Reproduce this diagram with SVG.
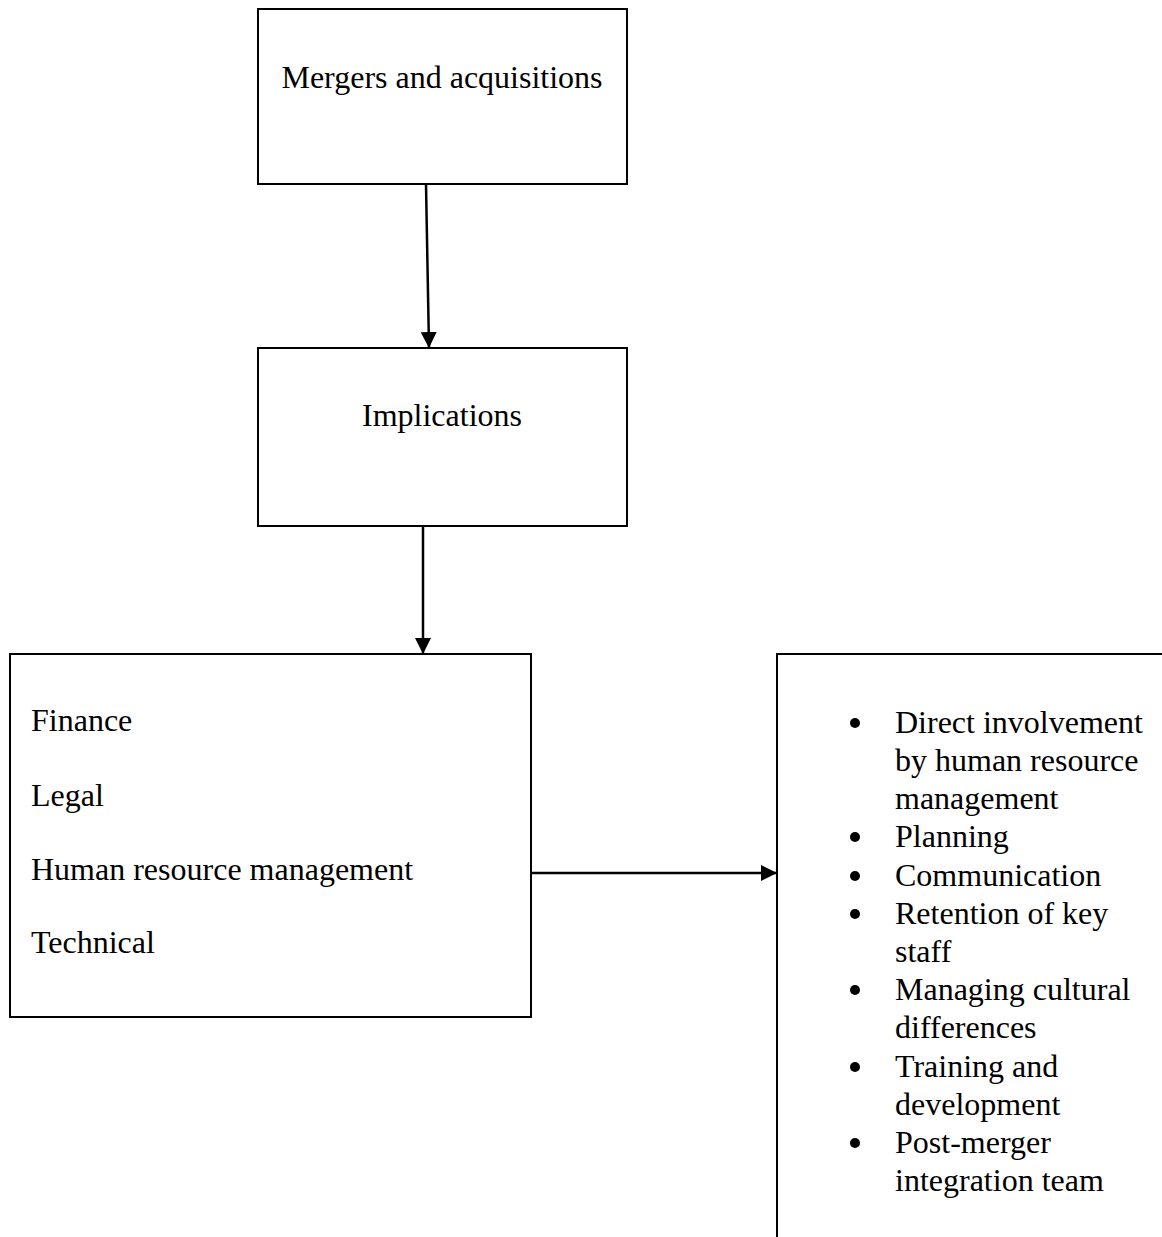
<svg xmlns="http://www.w3.org/2000/svg" width="1162" height="1237" viewBox="0 0 1162 1237">
<style>
.box{fill:#fff;stroke:#000;stroke-width:2}
.t{font-family:"Liberation Serif","Times New Roman",serif;font-size:32px;fill:#000}
.c{text-anchor:middle}
.edge{stroke:#000;stroke-width:2.5;fill:none}
</style>
<defs>
<marker id="ah" markerWidth="17" markerHeight="17" refX="16" refY="8" orient="auto" markerUnits="userSpaceOnUse">
<path d="M0,0 L16,8 L0,16 Z" fill="#000"/>
</marker>
</defs>
<rect width="1162" height="1237" fill="#fff"/>
<g id="n1">
<rect class="box" x="258" y="9" width="369" height="175"/>
<text class="t c" x="442" y="88">Mergers and acquisitions</text>
</g>
<g id="n2">
<rect class="box" x="258" y="348" width="369" height="178"/>
<text class="t c" x="442" y="426">Implications</text>
</g>
<g id="n3">
<rect class="box" x="10" y="654" width="521" height="363"/>
<text class="t" x="31" y="731">Finance</text>
<text class="t" x="31" y="806">Legal</text>
<text class="t" x="31" y="880">Human resource management</text>
<text class="t" x="31" y="953">Technical</text>
</g>
<g id="n4">
<rect class="box" x="777" y="654" width="500" height="700"/>
<g fill="#000">
<circle cx="855" cy="723" r="5"/>
<circle cx="855" cy="837" r="5"/>
<circle cx="855" cy="876" r="5"/>
<circle cx="855" cy="914" r="5"/>
<circle cx="855" cy="990" r="5"/>
<circle cx="855" cy="1067" r="5"/>
<circle cx="855" cy="1143" r="5"/>
</g>
<text class="t" x="895" y="733">Direct involvement</text>
<text class="t" x="895" y="771">by human resource</text>
<text class="t" x="895" y="809">management</text>
<text class="t" x="895" y="847">Planning</text>
<text class="t" x="895" y="886">Communication</text>
<text class="t" x="895" y="924">Retention of key</text>
<text class="t" x="895" y="962">staff</text>
<text class="t" x="895" y="1000">Managing cultural</text>
<text class="t" x="895" y="1038">differences</text>
<text class="t" x="895" y="1077">Training and</text>
<text class="t" x="895" y="1115">development</text>
<text class="t" x="895" y="1153">Post-merger</text>
<text class="t" x="895" y="1191">integration team</text>
</g>
<g id="connectors">
<line class="edge" x1="426" y1="184" x2="429" y2="348" marker-end="url(#ah)"/>
<line class="edge" x1="423" y1="526" x2="423" y2="654" marker-end="url(#ah)"/>
<line class="edge" x1="531" y1="873" x2="777" y2="873" marker-end="url(#ah)"/>
</g>
</svg>
